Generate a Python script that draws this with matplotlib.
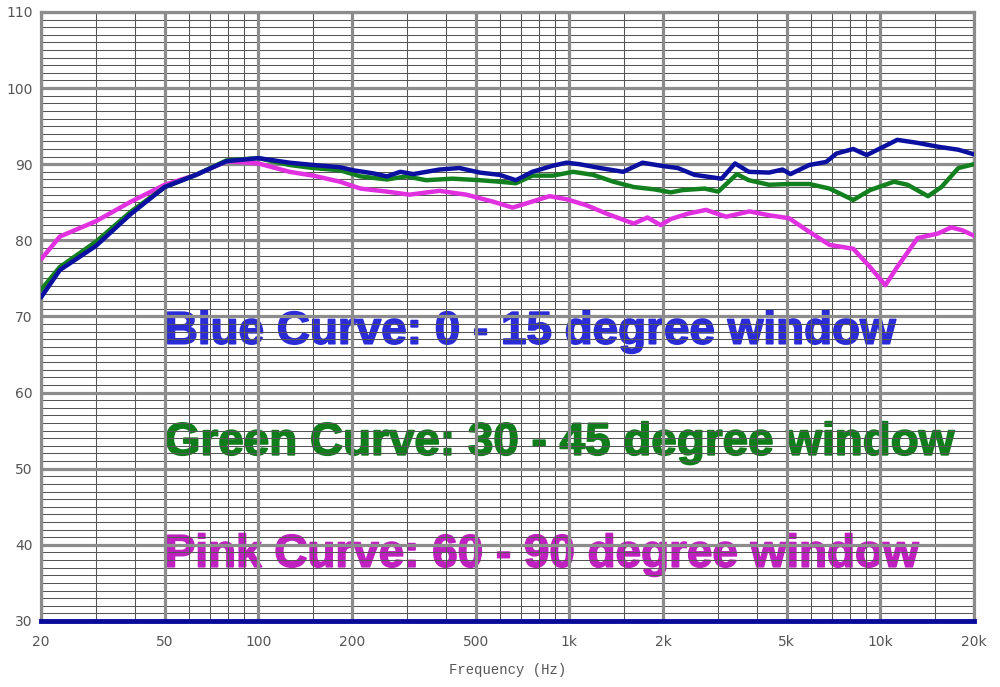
import matplotlib.pyplot as plt
import matplotlib.patheffects as pe
import numpy as np

# Frequenzgang, Werte (Hz / dB)
blue_f = [20, 23, 30, 39, 50, 63, 79, 100, 126, 150, 183, 202, 234, 259, 286, 315,
          382, 443, 515, 597, 673, 760, 884, 979, 1078, 1254, 1490, 1718, 1966, 2230,
          2527, 3086, 3410, 3774, 4384, 4843, 5139, 5910, 6695, 7220, 8180, 9040,
          10240, 11330, 13180, 15320, 17820, 20000]
blue_db = [72.5, 76.1, 79.25, 83.5, 87.0, 88.6, 90.4, 90.8, 90.2, 89.9, 89.6, 89.2,
           88.8, 88.4, 89.0, 88.7, 89.3, 89.5, 88.9, 88.6, 87.9, 89.0, 89.8, 90.2,
           90.0, 89.5, 89.0, 90.2, 89.8, 89.5, 88.6, 88.1, 90.1, 89.0, 88.9, 89.3,
           88.7, 89.9, 90.3, 91.4, 92.0, 91.2, 92.3, 93.2, 92.8, 92.3, 91.9, 91.3]

green_f = [20, 23, 30, 39, 50, 63, 79, 100, 126, 150, 183, 213, 259, 299, 346, 421,
           515, 597, 673, 760, 884, 1028, 1192, 1386, 1611, 1873, 2118, 2311, 2720,
           3010, 3456, 3774, 4384, 5089, 5910, 6862, 8180, 9262, 11050, 12230, 14230,
           15710, 17820, 20000]
green_db = [73.5, 76.5, 79.8, 83.8, 87.0, 88.6, 90.5, 90.8, 89.9, 89.5, 89.2, 88.4,
            88.0, 88.4, 87.9, 88.1, 87.9, 87.7, 87.5, 88.5, 88.5, 89.0, 88.6, 87.7,
            87.0, 86.7, 86.3, 86.6, 86.8, 86.4, 88.7, 87.9, 87.3, 87.4, 87.4, 86.8,
            85.3, 86.6, 87.7, 87.3, 85.8, 87.0, 89.5, 90.0]

pink_f = [20, 23, 30, 39, 50, 63, 79, 100, 126, 150, 183, 213, 259, 306, 382, 466,
          566, 657, 760, 863, 979, 1136, 1318, 1611, 1782, 1966, 2118, 2405, 2748,
          3193, 3792, 4384, 5089, 5766, 6862, 8180, 9262, 10370, 11330, 13180, 15320,
          16900, 18400, 20000]
pink_db = [77.5, 80.5, 82.5, 85.1, 87.3, 88.6, 90.4, 90.1, 89.0, 88.5, 87.7, 86.8,
           86.4, 86.0, 86.5, 86.0, 85.1, 84.3, 85.1, 85.8, 85.4, 84.6, 83.5, 82.2,
           83.0, 82.0, 82.8, 83.5, 84.0, 83.1, 83.8, 83.3, 82.9, 81.4, 79.4, 78.9,
           76.5, 74.1, 76.5, 80.3, 80.9, 81.7, 81.3, 80.6]

major_x = [20, 50, 100, 200, 500, 1000, 2000, 5000, 10000, 20000]
major_x_labels = ['20', '50', '100', '200', '500', '1k', '2k', '5k', '10k', '20k']
minor_x = [30, 40, 60, 70, 80, 90, 150, 300, 400, 600, 700, 800, 900, 1500,
           3000, 4000, 6000, 7000, 8000, 9000, 15000]
major_y = [30, 40, 50, 60, 70, 80, 90, 100, 110]

captions = ['Blue Curve: 0 - 15 degree window',
            'Green Curve: 30 - 45 degree window',
            'Pink Curve: 60 - 90 degree window']
caption_y = [68.0, 53.4, 38.7]
caption_colors = ['#2b2bd8', '#0f7d1a', '#c020c0']

fig = plt.figure(figsize=(10, 6.87), dpi=100)
ax = fig.add_axes([0.041, 0.0961, 0.933, 0.8865])
ax.set_xscale('log')
ax.set_xlim(20, 20000)
ax.set_ylim(30, 110)

# Gitter von Hand, damit es über dem Text liegt
for y in range(31, 110):
    if y % 10:
        ax.axhline(y, color='#555555', lw=0.75, zorder=2)
for x in minor_x:
    ax.axvline(x, color='#555555', lw=0.75, zorder=2)
for y in major_y:
    ax.axhline(y, color='#8c8c8c', lw=2.3, zorder=2.1)
for x in major_x:
    ax.axvline(x, color='#8c8c8c', lw=2.3, zorder=2.1)

for txt, yy, c in zip(captions, caption_y, caption_colors):
    ax.text(50, yy, txt, color=c, fontsize=33, fontweight='bold',
            family='Liberation Sans', ha='left', va='center', zorder=1,
            path_effects=[pe.withStroke(linewidth=1.2, foreground=c)])

ax.plot(pink_f, pink_db, color='#e030e0', lw=3.2, zorder=3,
        solid_joinstyle='round', solid_capstyle='round')
ax.plot(green_f, green_db, color='#13801f', lw=3.2, zorder=3.1,
        solid_joinstyle='round', solid_capstyle='round')
ax.plot(blue_f, blue_db, color='#0b10a0', lw=3.2, zorder=3.2,
        solid_joinstyle='round', solid_capstyle='round')

for s in ['left', 'right', 'top']:
    ax.spines[s].set_color('#8c8c8c')
    ax.spines[s].set_linewidth(2.3)
ax.spines['bottom'].set_color('#0a0a9a')
ax.spines['bottom'].set_linewidth(3.5)
ax.spines['bottom'].set_zorder(4)

ax.set_xticks(major_x)
ax.set_xticklabels(major_x_labels)
ax.set_xticks([], minor=True)
ax.set_yticks(major_y)
ax.tick_params(length=0, labelsize=10, labelcolor='#555555', pad=10)
ax.tick_params(axis='y', pad=6)
ax.set_xlabel('Frequency (Hz)', family='Liberation Mono', fontsize=10,
              color='#555555', labelpad=10)

fig.savefig('out.png', dpi=100)
